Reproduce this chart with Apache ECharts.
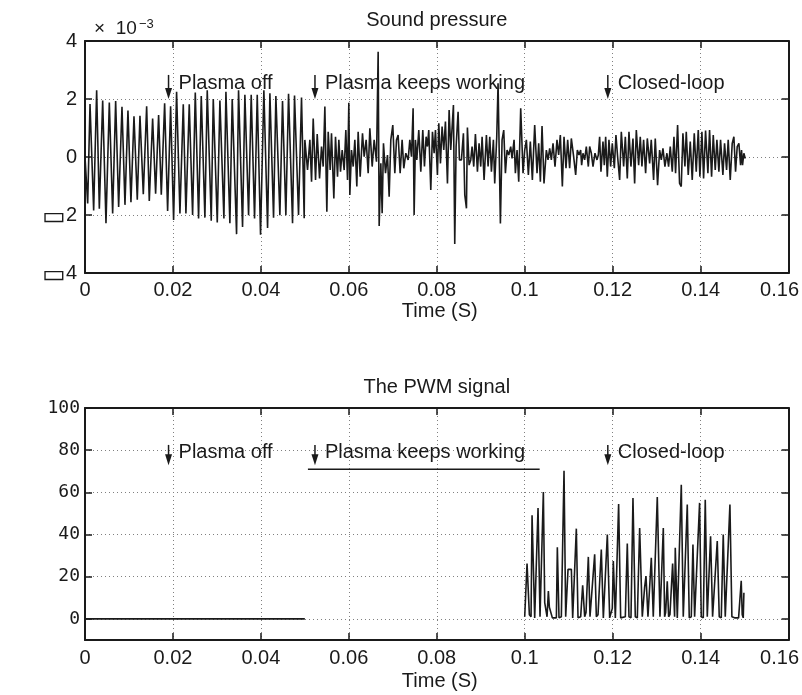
<!DOCTYPE html>
<html><head><meta charset="utf-8">
<script src="https://cdn.jsdelivr.net/npm/echarts@6/dist/echarts.min.js"></script>
<style>html,body{margin:0;padding:0;background:#fff}#c{width:802px;height:695px}</style>
</head><body><div id="c"></div>
<script>
// ---- Sound pressure (ADC, units of 1e-3 V), time in ms ----
const spTimeA = [0, 0.61,1.14, 1.97,2.65, 3.26,4.02, 4.77,5.53, 6.29,6.97, 7.65,8.41, 9.09,9.77, 10.45,11.14, 11.89,12.5, 13.26,14.02, 14.62,15.38, 16.06,16.74, 17.35,18.11, 18.79,19.47, 20.15,20.83, 21.59,22.35, 22.95,23.71, 24.47,25.08, 25.83,26.44, 27.27,27.8, 28.71,29.17, 30.08,30.68, 31.59,32.05, 32.95,33.48, 34.47,34.92, 35.83,36.36, 37.2,37.8, 38.56,39.17, 39.92,40.68, 41.52,42.05, 42.88,43.41, 44.32,44.92, 45.68,46.29, 47.2,47.65, 48.56,49.24, 49.85];
const spValA = [0, -1.6,1.83, -1.84,2.3, -1.78,1.95, -2.28,1.88, -1.95,1.93, -1.72,1.73, -1.65,1.6, -1.56,1.4, -1.47,1.42, -1.28,1.75, -1.52,1.33, -1.27,1.45, -1.3,1.85, -1.86,1.75, -2.17,2.25, -1.95,1.82, -1.95,1.82, -2.0,2.22, -2.12,2.1, -2.09,2.3, -2.2,2.0, -2.26,1.95, -2.12,2.25, -2.28,2.0, -2.66,2.3, -2.41,2.15, -2.01,2.15, -2.12,2.15, -2.68,2.3, -2.45,2.2, -2.09,2.1, -2.01,1.93, -2.01,2.18, -2.28,2.12, -2.0,2.05, -2.11];
const spTimeB = [50.0, 50.61, 51.14, 51.52, 51.9, 52.43, 52.81, 53.34, 53.79, 54.17,
 54.55, 55.0, 55.31, 55.76, 56.06, 56.59, 56.97, 57.43, 57.73, 58.11,
 58.49, 58.94, 59.32, 59.7, 60.0, 60.23, 60.61, 60.99, 61.37, 61.82,
 62.12, 62.58, 63.11, 63.49, 63.94, 64.4, 64.78, 65.31, 65.76, 66.29,
 66.67, 66.9, 67.28, 67.58, 67.88, 68.34, 68.79, 69.17, 69.55, 70.0,
 70.46, 70.84, 71.21, 71.67, 72.12, 72.5, 72.96, 73.49, 73.87, 74.25,
 74.62, 74.85, 75.15, 75.46, 75.91, 76.37, 76.82, 77.2, 77.58, 77.88,
 78.18, 78.64, 79.02, 79.4, 79.7, 80.15, 80.46, 80.84, 81.21, 81.59,
 81.97, 82.43, 82.81, 83.18, 83.79, 84.09, 84.4, 84.85, 85.15, 85.61,
 86.06, 86.37, 86.75, 86.97, 87.35, 87.73, 88.03, 88.41, 88.79, 89.25,
 89.62, 90.0, 90.31, 90.76, 91.29, 91.67, 92.05, 92.43, 92.88, 93.18,
 93.64, 93.94, 94.47, 94.85, 95.23, 95.61, 95.99, 96.37, 96.82, 97.12,
 97.58, 97.88, 98.26, 98.64];
const spValB = [0.59, -0.45, 0.59, -0.85, 1.33, -0.79, 0.79, -0.74, 0.36, -0.33,
 1.74, -1.89, 0.87, -0.45, 0.82, -1.43, 0.7, -0.68, 0.59, -0.51,
 0.24, -0.45, 0.93, -0.79, 1.87, -1.31, 0.24, -0.33, 0.59, -1.02,
 0.87, -0.68, 0.82, 0.01, 0.59, -0.56, 0.99, -0.33, 0.59, -0.16,
 3.63, -2.38, -0.22, -1.94, 0.47, -0.56, 0.07, -1.37, 0.59, 1.1,
 -0.56, 0.59, 0.76, -0.56, 0.59, -0.39, 0.13, -0.1, 0.59, 0.01,
 1.68, -2.0, 0.59, -0.1, 0.93, -0.51, 0.93, -0.33, 0.7, 0.36,
 0.93, -1.14, 0.87, 0.13, 0.93, -0.62, 1.16, -0.22, 1.05, 0.24,
 1.22, -0.91, 1.62, 0.24, 1.79, -3.0, 0.36, 1.56, -0.1, -0.1,
 0.82, -1.31, -1.77, 1.02, -0.28, -0.1, 0.36, -0.33, 0.79, -0.51,
 0.47, -0.33, 0.7, -0.79, 0.76, -0.33, 0.7, -0.51, 0.59, -0.91,
 0.7, 2.54, -2.29, 0.59, 0.93, -0.56, 0.24, 0.07, 0.36, -0.05,
 0.59, -0.56, 0.24, -0.85];
const spTimeC = [99.09, 99.62, 100.0, 100.38, 100.83, 101.28, 101.74, 102.27, 102.8, 103.18,
 103.56, 103.94, 104.39, 104.92, 105.3, 105.68, 106.06, 106.44, 106.89, 107.34,
 107.72, 108.1, 108.56, 108.94, 109.39, 109.77, 110.22, 110.6, 111.13, 111.59,
 111.97, 112.34, 112.72, 112.95, 113.25, 113.63, 114.01, 114.47, 114.77, 115.15,
 115.53, 115.98, 116.44, 116.74, 117.04, 117.34, 117.8, 118.1, 118.41, 118.78,
 119.16, 119.54, 119.92, 120.38, 120.75, 121.13, 121.59, 121.97, 122.5, 122.88,
 123.33, 123.71, 124.16, 124.62, 125.0, 125.38, 125.91, 126.28, 126.66, 127.04,
 127.5, 127.88, 128.41, 128.78, 129.31, 129.69, 130.22, 130.68, 131.06, 131.44,
 131.89, 132.34, 132.72, 133.1, 133.56, 133.94, 134.31, 134.77, 135.22, 135.6,
 135.98, 136.44, 136.74, 137.19, 137.65, 138.1, 138.56, 139.01, 139.47, 139.84,
 140.3, 140.68, 141.13, 141.66, 142.04, 142.5, 142.88, 143.33, 143.71, 144.16,
 144.54, 145.07, 145.45, 145.91, 146.28, 146.74, 147.19, 147.57, 147.95, 148.33,
 148.71, 149.09, 149.31, 149.54, 149.84, 150.15];
const spValC = [1.68, -0.56, 0.24, 0.59, -0.62, 0.53, -0.79, 1.1, -0.56, 0.47,
 -0.85, 1.07, -0.91, 0.24, -0.1, 0.3, -0.1, 0.47, -0.33, 0.59,
 0.07, 0.76, -1.02, 0.7, -0.39, 0.59, -0.39, 0.64, 0.01, -0.62,
 0.24, 0.07, 0.24, -0.28, 0.13, -0.1, 0.36, -0.33, 0.36, 0.13,
 -0.33, 0.13, -0.1, 0.07, 0.7, -0.51, 0.53, -0.28, 0.7, -0.68,
 0.59, -0.33, 0.47, -0.39, 0.76, 0.01, -0.79, 0.87, -0.33, 0.7,
 -0.74, 0.87, -0.33, 0.64, -0.91, 0.93, -0.28, 0.7, -0.33, 0.59,
 -0.56, 0.64, -0.22, 0.59, -0.79, 0.64, -0.97, 0.24, -0.1, 0.3,
 -0.33, 0.13, -0.33, 0.36, -0.51, 0.7, -0.56, 1.1, -0.91, -1.02,
 0.82, -0.33, 0.87, -0.62, 0.53, -0.79, 0.82, -0.51, 0.93, -0.68,
 0.87, -0.74, 0.91, -0.56, 0.93, -0.68, 0.76, -0.45, 0.59, -0.51,
 0.59, -0.62, 0.47, -0.45, 0.59, -0.79, 0.47, 0.7, -0.51, 0.36,
 0.47, -0.28, 0.24, -0.28, 0.13, -0.05];

// ---- PWM duty cycle (%), time in ms ----
const pwmOffTime = [0, 50];
const pwmOffDuty = [0, 0];
const pwmTime = [100.0, 100.53, 101.06, 101.44, 101.67, 102.27, 103.03, 103.48, 103.79, 104.24,
 104.55, 104.85, 105.08, 105.38, 105.61, 106.06, 106.29, 107.2, 107.42, 107.8,
 108.33, 108.94, 109.32, 109.7, 109.85, 110.61, 110.91, 111.36, 111.74, 112.12,
 112.73, 113.18, 113.64, 113.94, 114.47, 114.85, 115.3, 115.91, 116.29, 116.67,
 117.42, 117.88, 118.33, 118.79, 119.32, 119.7, 119.92, 120.15, 120.61, 120.91,
 121.36, 121.82, 122.88, 123.33, 123.71, 124.17, 124.62, 125.15, 125.61, 126.14,
 126.74, 127.27, 127.58, 128.03, 128.41, 128.79, 129.24, 129.62, 130.15, 130.76,
 131.06, 131.52, 131.82, 132.05, 132.42, 132.73, 133.03, 133.33, 133.64, 133.79,
 134.09, 134.24, 134.7, 135.15, 135.61, 136.06, 136.36, 136.97, 137.42, 137.88,
 138.26, 138.64, 139.09, 139.77, 140.15, 140.61, 141.06, 141.52, 141.82, 142.27,
 142.73, 143.18, 143.79, 144.24, 144.7, 145.15, 145.61, 146.06, 146.67, 147.12,
 147.73, 148.18, 148.64, 149.24, 149.47, 149.7, 149.85, 150.0];
const pwmDuty = [1, 26.3, 2, 1, 49.1, 0.5, 52.6, 1, 0.5, 60.2,
 7.7, 7.5, 1, 13.2, 5.5, 5.5, 0.5, 0.5, 34.0, 0.5,
 1, 70.2, 1, 1, 23.5, 23.5, 0.5, 1, 42.8, 0.5,
 1, 15.9, 1, 3, 29.4, 1, 0.5, 30.6, 1, 2,
 32.9, 0.5, 1, 40.0, 0.5, 1, 5, 27.4, 0.5, 1,
 54.5, 0.5, 1, 35.7, 1, 0.5, 57.3, 1, 0.5, 43.1,
 1, 15, 20.3, 1, 0.5, 29.0, 1, 0.5, 57.8, 1,
 0.5, 43.1, 1, 3, 17.8, 1, 2, 2, 26.2, 26.6,
 1, 33.7, 0.5, 1, 63.6, 1, 0.5, 54.2, 0.5, 1,
 35.3, 1, 0.5, 55.0, 1, 0.5, 56.5, 1, 0.5, 39.2,
 1, 0.5, 36.9, 1, 0.5, 40.0, 1, 0.5, 54.2, 1,
 0.5, 1, 0.5, 18.1, 2, 0.5, 12.4, 12.4];

// ---- axis ticks / labels / annotations ----
const xTickMin = 0, xTickMax = 0.16, xTickStep = 0.02;
const spTicks = [-4, -2, 0, 2, 4];
const annTimes = [0.019, 0.0523, 0.1189];
const annLabels = ['Plasma off', 'Plasma keeps working', 'Closed-loop'];
const underlineTimes = [0.0507, 0.1034];

const FONT = '"Liberation Sans", Arial, Helvetica, sans-serif';
const INK = '#1a1a1a';
const chart = echarts.init(document.getElementById('c'), null, {renderer: 'canvas'});

const pair = (ts, vs) => ts.map((t, i) => [t / 1000, vs[i]]);
const spData = pair(spTimeA, spValA).concat(pair(spTimeB, spValB), pair(spTimeC, spValC));
const pwmData = pair(pwmOffTime, pwmOffDuty).concat([[0.075, null]], pair(pwmTime, pwmDuty));

function fmtX(v) {
  const s = String(+v.toFixed(2));
  return Math.abs(v - xTickMax) < 1e-9 ? '{r|' + s + '}' : s;
}
function fmtTopY(v) { return v < 0 ? '{m|\u25AD}' + (-v) : String(v); }
const dotted = {show: true, lineStyle: {color: '#808080', width: 1, type: [1, 3]}};
const axLine = {onZero: false, lineStyle: {color: INK, width: 2}};
const axTick = {inside: true, length: 7, lineStyle: {color: INK, width: 1.5}};

function xAxes(grid, margin) {
  return [
    {gridIndex: grid, type: 'value', min: xTickMin, max: xTickMax, interval: xTickStep, position: 'bottom',
     axisLine: axLine, axisTick: axTick,
     axisLabel: {margin: margin, fontFamily: FONT, fontSize: 20, color: INK, formatter: fmtX,
                 rich: {r: {fontFamily: FONT, fontSize: 20, color: INK, padding: [0, 18, 0, 0]}}},
     splitLine: dotted},
    {gridIndex: grid, type: 'value', min: xTickMin, max: xTickMax, interval: xTickStep, position: 'top',
     axisLine: axLine, axisTick: axTick, axisLabel: {show: false}, splitLine: {show: false}}
  ];
}

const option = {
  animation: false,
  backgroundColor: '#fff',
  grid: [
    {left: 85, top: 41, width: 704, height: 232},
    {left: 85, top: 408, width: 704, height: 232}
  ],
  xAxis: xAxes(0, 7).concat(xAxes(1, 8)),
  yAxis: [
    {gridIndex: 0, type: 'value', min: spTicks[0], max: spTicks[spTicks.length - 1], interval: 2, position: 'left',
     axisLine: axLine, axisTick: axTick,
     axisLabel: {margin: 8, fontFamily: FONT, fontSize: 20, color: INK, formatter: fmtTopY,
                 rich: {m: {fontFamily: '"DejaVu Sans", sans-serif', fontSize: 25, color: INK, padding: [4, 0, 0, 0]}}},
     splitLine: dotted},
    {gridIndex: 0, type: 'value', min: spTicks[0], max: spTicks[spTicks.length - 1], interval: 2, position: 'right',
     axisLine: axLine, axisTick: axTick, axisLabel: {show: false}, splitLine: {show: false}},
    {gridIndex: 1, type: 'value', min: -10, max: 100, splitNumber: 5, position: 'left',
     axisLine: axLine, axisTick: axTick,
     axisLabel: {margin: 5, fontFamily: '"DejaVu Sans Mono", monospace', fontSize: 18, color: INK,
                 showMinLabel: false, formatter: v => (v < 0 ? '' : String(v))},
     splitLine: dotted},
    {gridIndex: 1, type: 'value', min: -10, max: 100, splitNumber: 5, position: 'right',
     axisLine: axLine, axisTick: axTick, axisLabel: {show: false}, splitLine: {show: false}}
  ],
  series: [
    {type: 'line', xAxisIndex: 0, yAxisIndex: 0, data: spData, showSymbol: false, symbol: 'none',
     lineStyle: {color: INK, width: 1.6}, clip: true, z: 3},
    {type: 'line', xAxisIndex: 2, yAxisIndex: 2, data: pwmData, showSymbol: false, symbol: 'none',
     connectNulls: false, lineStyle: {color: INK, width: 1.6}, clip: true, z: 3}
  ]
};
chart.setOption(option);

// ---- text and annotations placed through the axes ----
const g = [];
function txt(x, y, s, size, opts) {
  g.push(Object.assign({type: 'text', x: x, y: y, z: 10,
    style: {text: s, fontFamily: FONT, fontSize: size, fill: INK, align: 'center', verticalAlign: 'middle'}}, opts || {}));
}
const topP = (t, v) => chart.convertToPixel({xAxisIndex: 0, yAxisIndex: 0}, [t, v]);
const botP = (t, v) => chart.convertToPixel({xAxisIndex: 2, yAxisIndex: 2}, [t, v]);
const midX = (topP(0, 0)[0] + topP(xTickMax, 0)[0]) / 2;

txt(midX, 20, 'Sound pressure', 20);
txt(midX, 387, 'The PWM signal', 20);
txt(midX + 3, 311, 'Time (S)', 20);
txt(midX + 3, 681, 'Time (S)', 20);
txt(31, 157, 'ADC (V)', 20, {rotation: Math.PI / 2, originX: 31, originY: 157});
txt(23, 525, 'Duty cycle (%)', 20, {rotation: Math.PI / 2, originX: 23, originY: 525});
g.push({type: 'text', x: 94, y: 29, z: 10, style: {text: '\u00D7  10', fontFamily: FONT, fontSize: 19, fill: INK, align: 'left', verticalAlign: 'middle'}});
g.push({type: 'text', x: 139, y: 24, z: 10, style: {text: '\u22123', fontFamily: FONT, fontSize: 13, fill: INK, align: 'left', verticalAlign: 'middle'}});

function arrow(p0, p1) {
  const x = p0[0];
  g.push({type: 'line', z: 10, shape: {x1: x, y1: p0[1], x2: x, y2: p1[1] - 8}, style: {stroke: INK, lineWidth: 1.5}});
  g.push({type: 'polygon', z: 10, shape: {points: [[x - 3.5, p1[1] - 11], [x + 3.5, p1[1] - 11], [x, p1[1]]]}, style: {fill: INK}});
}
annTimes.forEach((t, i) => {
  arrow(topP(t, 2.83), topP(t, 2.0));
  const pt = topP(t, 2.52);
  g.push({type: 'text', x: pt[0] + 10, y: pt[1], z: 10, style: {text: annLabels[i], fontFamily: FONT, fontSize: 20, fill: INK, align: 'left', verticalAlign: 'middle'}});
  arrow(botP(t, 82.5), botP(t, 72.8));
  const pb = botP(t, 79);
  g.push({type: 'text', x: pb[0] + 10, y: pb[1], z: 10, style: {text: annLabels[i], fontFamily: FONT, fontSize: 20, fill: INK, align: 'left', verticalAlign: 'middle'}});
});
const u0 = botP(underlineTimes[0], 71), u1 = botP(underlineTimes[1], 71);
g.push({type: 'line', z: 10, shape: {x1: u0[0], y1: u0[1], x2: u1[0], y2: u1[1]}, style: {stroke: INK, lineWidth: 1.5}});

chart.setOption({graphic: g});
</script>
</body></html>
